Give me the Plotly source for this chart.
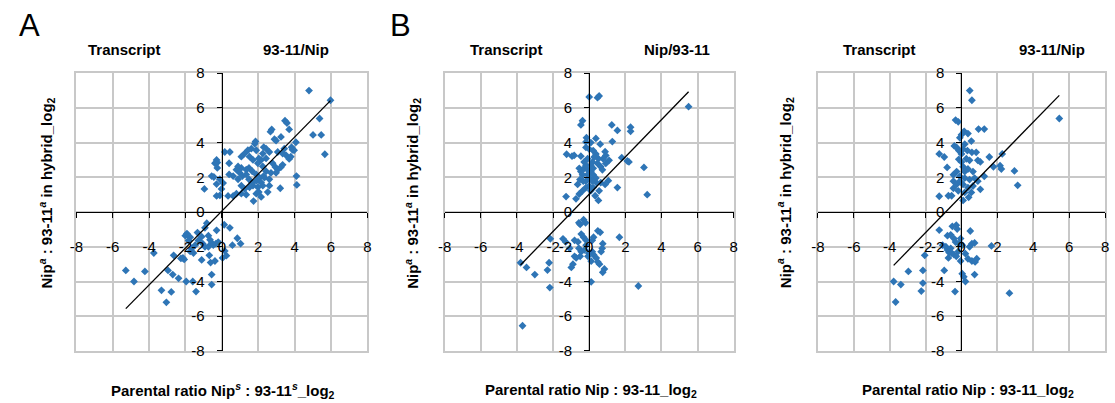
import plotly.graph_objects as go

# ---- Panel A: Transcript 93-11/Nip (parental ratio vs. hybrid allelic ratio) ----
a_x = [4.79, 5.97, 5.37, 5.01, 5.46, 5.66, 3.47, 3.58, 3.70, 3.25, 2.74, 2.67, 2.89, 2.98, 1.85,
       1.81, 2.30, 2.43, 4.07, 3.83, 3.88, 3.43, 3.34, 3.70, 3.79, 3.52, 3.07, 2.61, 2.25, 2.43,
       2.16, 2.03, 1.89, 1.62, 1.43, 1.25, 1.07, 1.52, 1.71, 1.98, 2.25, 2.79, 2.94, 3.07, 3.25,
       2.98, 2.70, 2.43, 2.29, 2.07, 1.89, 1.67, 1.49, 1.34, 1.07, 0.89, 0.80, 0.98, 1.13, 1.34,
       1.49, 1.67, 1.89, 2.16, 2.34, 2.25, 1.98, 1.71, 1.52, 1.25, 1.07, 0.89, 0.62, 0.40, 0.16,
       0.44, 0.40, -0.29, -0.25, -0.38, -0.25, -0.56, -0.44, -0.11, -0.29, 0.07, -0.02, -0.96, -0.29, -0.11,
       0.34, 0.62, 0.80, 1.07, 1.34, 1.74, 1.89, 2.16, 2.03, 2.52, 2.61, 3.21, 4.10, 4.12, 2.61,
       3.34, 3.97,
       -5.28, -4.83, -4.23, -3.74, -3.32, -2.78, -3.05, -2.96, -2.70, -2.38, -1.96, -1.60, -1.42, -2.65, -2.25,
       -2.07, -2.14, -2.01, -1.92, -1.74, -1.83, -1.65, -1.74, -1.56, -1.47, -1.34, -1.11, -1.29, -1.05, -0.93,
       -0.83, -0.93, -0.74, -0.65, -0.56, -0.47, -0.74, -0.69, -1.11, -0.62, -0.38, -0.56, -0.56, -0.29, 0.13,
       0.44, 0.85, 1.03, 0.58, 0.16, 0.25, 0.04, -0.20, -0.33]
a_y = [7.00, 6.44, 5.39, 4.44, 4.44, 3.33, 5.26, 5.13, 4.76, 4.33, 4.76, 4.63, 4.20, 4.11, 4.07,
       3.93, 3.74, 3.65, 4.02, 3.74, 3.59, 3.65, 3.37, 3.06, 3.19, 3.28, 3.46, 3.46, 3.37, 3.09,
       3.00, 3.09, 3.56, 3.65, 3.56, 3.37, 3.19, 3.19, 3.00, 2.81, 2.63, 2.81, 2.59, 2.44, 2.59,
       2.26, 2.26, 2.35, 2.07, 1.98, 2.17, 2.35, 2.54, 2.44, 2.54, 2.63, 2.44, 2.26, 2.07, 2.17,
       1.89, 1.70, 1.80, 1.70, 1.98, 1.52, 1.43, 1.52, 1.43, 1.33, 1.52, 1.89, 2.07, 2.17, 3.46,
       3.46, 2.81, 3.00, 2.85, 2.81, 2.54, 2.07, 2.02, 1.89, 1.61, 1.67, 1.33, 1.33, 0.93, 0.96,
       0.93, 0.93, 1.06, 1.06, 1.00, 0.63, 1.06, 0.87, 1.15, 1.15, 1.52, 1.37, 2.07, 1.56, 1.89,
       2.72, 3.56,
       -3.36, -4.00, -3.42, -2.36, -4.51, -4.60, -5.20, -3.36, -3.60, -3.82, -4.00, -4.00, -4.58, -2.49, -2.67,
       -2.73, -2.64, -1.36, -1.24, -1.45, -1.64, -2.09, -2.27, -2.36, -1.91, -1.18, -1.42, -1.64, -1.82, -2.00,
       -0.64, -0.91, -1.36, -1.60, -1.78, -1.91, -2.00, -2.49, -2.76, -2.91, -2.82, -3.60, -4.18, -1.05, -0.73,
       -0.91, -1.51, -1.82, -1.91, -2.24, -2.51, -2.64, -1.73, -1.82]

# ---- Panel B: Transcript Nip/93-11 ----
b_x = [0.00, 0.46, 0.55, 5.50, -0.37, -0.46, 1.25, 1.56, 2.29, 2.29, 1.28, -0.15, 0.37, -0.18, 0.09,
       0.61, -1.25, -0.95, -0.83, -0.46, -0.18, 0.00, 0.22, 0.37, 0.88, 0.92, 0.77, 0.51, -0.09, -0.28,
       0.18, 0.46, 0.92, 1.10, 1.80, 2.11, 2.20, 3.03, 3.21, 1.56, 1.06, 0.88, 0.64, 0.55, 0.51,
       0.33, 0.09, -0.18, -0.37, -0.55, -0.73, -1.28, -0.51, -0.46, -0.55, -0.28, -0.09, 0.09, 0.22, 0.37,
       0.00, -0.18, 0.18, 0.40, 0.00, 0.22, -0.09, 0.09, -0.18, 0.28, 0.64, 0.73, -0.37, -0.33, -0.64,
       0.22,
       -3.69, -3.80, -3.47, -3.01, -2.31, -2.22, -2.18, -2.15, -1.45, -1.30, -1.08, -0.99, -0.90, -0.81, -0.72,
       -0.81, -0.62, -0.57, -0.50, -0.31, -0.20, -0.44, -0.31, -0.17, -0.57, -0.44, -0.17, -0.26, -0.50, -0.02,
       -0.07, 0.17, 0.24, 0.39, 0.48, 0.57, 0.11, 0.17, 0.24, 0.48, 0.61, 0.75, 0.72, 0.66, 0.84,
       0.75, 0.11, 1.67, 2.72]
b_y = [6.63, 6.59, 6.69, 6.07, 5.26, 5.02, 5.02, 4.70, 4.89, 4.65, 4.06, 4.28, 4.24, 4.04, 4.00,
       3.91, 3.33, 3.22, 3.26, 3.22, 3.72, 3.63, 3.54, 3.35, 3.48, 3.26, 3.07, 3.07, 3.07, 2.89,
       2.89, 2.80, 2.80, 2.98, 3.13, 2.94, 2.89, 2.57, 1.00, 1.41, 1.81, 1.59, 1.69, 1.22, 0.67,
       0.94, 1.22, 1.41, 1.22, 1.04, 0.76, 0.89, 1.87, 2.33, 2.52, 2.52, 2.43, 2.33, 2.15, 1.96,
       1.96, 1.78, 1.78, 1.69, 1.50, 1.41, 2.15, 2.70, 2.70, 3.17, 2.61, 2.43, 2.15, 1.78, 1.59,
       2.52,
       -6.55, -2.92, -3.19, -3.60, -3.34, -2.92, -4.35, -1.54, -1.54, -1.72, -2.09, -3.19, -3.00, -2.55, -2.64,
       -1.63, -1.72, -0.62, -0.71, -0.44, -0.62, -1.27, -1.45, -1.63, -2.09, -2.28, -1.91, -2.18, -2.55, -2.37,
       -2.55, -2.28, -2.46, -2.64, -2.88, -3.00, -2.83, -1.63, -1.45, -1.08, -1.17, -1.82, -2.09, -2.28, -3.28,
       -3.47, -4.02, -1.45, -4.26]

# ---- Panel C: Transcript 93-11/Nip ----
c_x = [0.46, 0.58, 5.45, -0.33, -0.18, 0.95, 1.27, 0.15, 0.00, 0.36, -0.09, 0.55, 0.18, -0.40, -0.27,
       -0.15, 0.09, 0.33, 0.58, 0.82, -1.24, -0.96, -0.80, 0.00, -0.15, 0.27, 0.45, 0.91, 1.05, 1.55,
       2.27, 2.15, 2.22, 1.78, 1.27, 2.95, 3.13, 0.09, 0.36, 0.64, -0.27, -0.45, -0.09, 0.18, 0.45,
       0.73, 0.91, -0.45, -0.27, 0.09, 0.36, 0.64, 1.05, 0.55, 0.18, -0.18, -0.45, -0.73, -0.55, -1.24,
       0.09, 0.40, 0.00, 0.18, -0.09,
       -3.67, -3.78, -3.38, -2.96, -2.24, -2.15, -2.15, -2.05, -1.24, -0.96, -1.05, -0.87, -0.78, -0.69, -0.73,
       -0.55, -0.42, -0.29, -0.18, -0.60, -0.78, -0.60, -0.51, -0.29, -0.24, -0.42, -0.33, -0.05, -0.15, 0.04,
       0.22, -0.05, 0.49, 0.58, 0.73, 0.45, 0.36, 0.58, 0.76, 0.85, 0.04, 0.13, 0.22, 0.73, -0.36,
       1.67, 2.67]
c_y = [7.00, 6.44, 5.39, 5.30, 5.20, 4.78, 4.78, 4.65, 4.46, 4.52, 4.28, 4.09, 3.91, 3.81, 3.72,
       3.54, 3.63, 3.54, 3.44, 3.44, 3.35, 3.17, 2.57, 3.35, 3.04, 3.07, 2.98, 2.98, 2.89, 3.17,
       3.35, 2.67, 2.48, 2.61, 2.06, 2.37, 1.54, 2.61, 2.48, 2.33, 2.33, 2.15, 2.06, 1.96, 1.87,
       1.96, 1.78, 1.78, 1.59, 1.59, 1.41, 1.50, 1.31, 1.13, 1.13, 1.22, 1.37, 0.94, 0.94, 0.91,
       0.67, 0.85, 2.89, 2.33, 1.78,
       -5.18, -4.00, -4.18, -3.42, -4.55, -3.36, -4.09, -2.49, -1.04, -3.36, -1.91, -2.00, -2.18, -2.33, -2.64,
       -2.36, -2.45, -2.55, -2.27, -2.09, -1.36, -1.31, -0.82, -0.76, -0.98, -1.53, -1.73, -1.53, -1.82, -1.91,
       -2.40, -2.82, -1.09, -1.82, -1.78, -2.00, -2.69, -2.82, -2.87, -2.69, -3.55, -3.73, -4.00, -3.60, -4.58,
       -1.95, -4.67]

# Linear trend fits (slope, intercept) for each panel
trend_slopes = [1.065, 1.073, 1.061]
trend_intercepts = [0.06, 1.03, 0.94]

tick_vals = [-8, -6, -4, -2, 0, 2, 4, 6, 8]
tick_text = [str(v) for v in tick_vals]

panel_titles_left = ["Transcript", "Transcript", "Transcript"]
panel_titles_right = ["93-11/Nip", "Nip/93-11", "93-11/Nip"]
x_titles = [
    "Parental ratio Nip<sup><i>s</i></sup> : 93-11<sup><i>s</i></sup>_log<sub>2</sub>",
    "Parental ratio Nip : 93-11_log<sub>2</sub>",
    "Parental ratio Nip : 93-11_log<sub>2</sub>",
]
y_title = "Nip<sup><i>a</i></sup> : 93-11<sup><i>a</i></sup> in hybrid_log<sub>2</sub>"
panel_letters = ["A", "B", ""]

W, H = 1115, 403
FONT = "Liberation Sans, Arial, sans-serif"
BLUE = "#2E75B6"
GRID = "#C8C8C8"

# plot-area boxes in pixels: (left, right)
x_boxes = [(70, 364), (442, 734), (819, 1109)]
y_top, y_bot = 67, 357
y_dom = [1 - y_bot / H, 1 - y_top / H]
y_mid = sum(y_dom) / 2

fig = go.Figure()
data = [(a_x, a_y), (b_x, b_y), (c_x, c_y)]
layout = dict(
    width=W, height=H, margin=dict(l=0, r=0, t=0, b=0),
    paper_bgcolor="white", plot_bgcolor="white", showlegend=False,
    font=dict(family=FONT, size=14, color="black"),
)
annotations = []

x_title_centers = [218, 590, 971]
y_title_centers = [40, 410, 786]
left_title_centers = [119, 504, 881]
right_title_centers = [292, 677, 1055]
letter_centers = [23, 397, None]


def note(text, px, py, size=15, angle=0):
    return dict(text=text, x=px / W, y=1 - py / H, xref="paper", yref="paper",
                xanchor="center", yanchor="middle", showarrow=False,
                textangle=angle, font=dict(size=size))


for i, ((xs, ys), (xl, xr)) in enumerate(zip(data, x_boxes)):
    # base axes (grid + frame) and crossing axes through the origin (lines, ticks, labels)
    n = "" if i == 0 else str(i + 1)
    m = str(i + 4)
    xb, yb = "x" + n, "y" + n
    xc, yc = "x" + m, "y" + m
    x_dom = [xl / W, xr / W]
    x_mid = sum(x_dom) / 2

    fig.add_trace(go.Scatter(
        x=xs, y=ys, mode="markers", xaxis=xb, yaxis=yb,
        marker=dict(symbol="diamond", size=6, color=BLUE, line=dict(width=0)),
    ))
    x0, x1 = min(xs), max(xs)
    s, b = trend_slopes[i], trend_intercepts[i]
    fig.add_trace(go.Scatter(
        x=[x0, x1], y=[s * x0 + b, s * x1 + b], mode="lines", xaxis=xc, yaxis=yc,
        line=dict(color="black", width=1.3),
    ))

    base = dict(
        range=[-8, 8], tickmode="linear", tick0=-8, dtick=2,
        showgrid=True, gridcolor=GRID, gridwidth=1.6, zeroline=False,
        showline=True, linecolor=GRID, linewidth=1.6, mirror=True,
        showticklabels=False, ticks="", fixedrange=True,
    )
    layout["xaxis" + n] = dict(base, domain=x_dom, anchor=yb)
    layout["yaxis" + n] = dict(base, domain=y_dom, anchor=xb)

    cross = dict(
        range=[-8, 8], tickmode="array", tickvals=tick_vals, ticktext=tick_text,
        showgrid=False, zeroline=False,
        showline=True, linecolor="black", linewidth=1.3,
        ticks="outside", ticklen=5, tickcolor="black", tickwidth=1.3,
        tickfont=dict(family=FONT, size=15, color="black"),
        anchor="free", fixedrange=True,
    )
    layout["xaxis" + m] = dict(cross, overlaying=xb, position=y_mid, ticklabelstandoff=16)
    layout["yaxis" + m] = dict(cross, overlaying=yb, position=x_mid, ticklabelstandoff=9)

    annotations += [
        note("<b>" + panel_titles_left[i] + "</b>", left_title_centers[i], 42),
        note("<b>" + panel_titles_right[i] + "</b>", right_title_centers[i], 42),
        note("<b>" + x_titles[i] + "</b>", x_title_centers[i], 398),
        note("<b>" + y_title + "</b>", y_title_centers[i], 192, angle=-90),
    ]
    if panel_letters[i]:
        annotations.append(note(panel_letters[i], letter_centers[i], 17, size=31))

layout["annotations"] = annotations
fig.update_layout(**layout)
fig.write_html("out.html")
